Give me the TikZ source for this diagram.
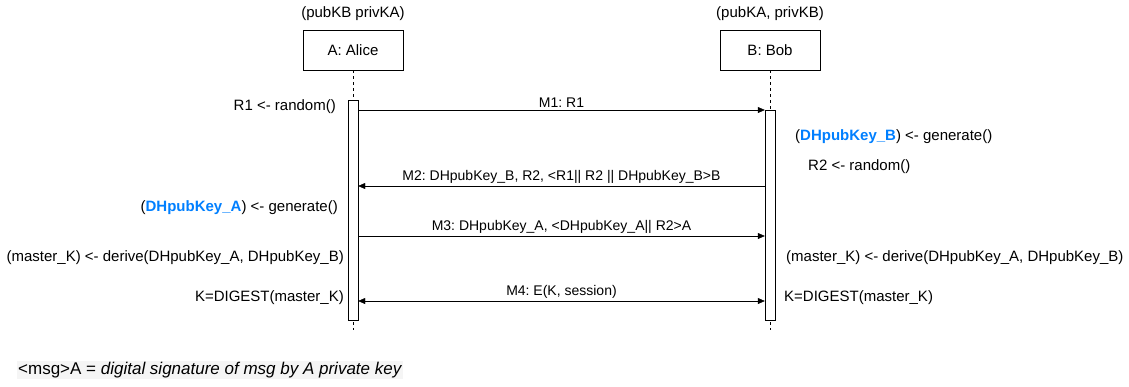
\documentclass[tikz,border=0pt]{standalone}
\usepackage{fontspec}
\setmainfont{Liberation Sans}
\usetikzlibrary{arrows.meta,positioning}
\definecolor{keyblue}{RGB}{0,127,255}
\definecolor{notegray}{RGB}{245,245,245}
\frenchspacing
\begin{document}
\begin{tikzpicture}[x=1pt,y=-1pt,
    actor/.style={draw,minimum width=100pt,minimum height=40pt,font=\fontsize{15}{18}\selectfont},
    act/.style={draw,fill=white,minimum width=10pt,inner sep=0pt},
    msg/.style={-{Triangle[length=7pt,width=6pt]}},
    msglbl/.style={font=\fontsize{14}{16}\selectfont,above,inner sep=2pt},
    note/.style={font=\fontsize{15}{18}\selectfont,inner sep=0pt}]
  \useasboundingbox (0,0) rectangle (1129,386);
  % participants
  \node[actor] (alice) at (353,50) {A: Alice};
  \node[actor] (bob) at (770,50) {B: Bob};
  \node[note,above=9pt of alice] (akeys) {(pubKB privKA)};
  \node[note,above=9pt of bob] (bkeys) {(pubKA, privKB)};
  % lifelines
  \coordinate (aend) at (353,330);
  \coordinate (bend) at (770,330);
  \draw[dashed,dash pattern=on 3pt off 3pt] (alice.south) -- (aend);
  \draw[dashed,dash pattern=on 3pt off 3pt] (bob.south) -- (bend);
  \node[act,minimum height=220pt] (aact) at (353,210) {};
  \node[act,minimum height=210pt] (bact) at (770,215) {};
  % messages
  \draw[msg] (aact.east |- 0,110) -- node[msglbl] (m1) {M1: R1} (bact.west |- 0,110);
  \draw[msg] (bact.west |- 0,186) -- node[msglbl] (m2) {M2: DHpubKey\_B, R2, <R1|| R2 || DHpubKey\_B>B} (aact.east |- 0,186);
  \draw[msg] (aact.east |- 0,236) -- node[msglbl] (m3) {M3: DHpubKey\_A, <DHpubKey\_A|| R2>A} (bact.west |- 0,236);
  \draw[{Triangle[length=7pt,width=6pt]}-{Triangle[length=7pt,width=6pt]}]
    (aact.east |- 0,301) -- node[msglbl] (m4) {M4: E(K, session)} (bact.west |- 0,301);
  % Alice side
  \node[note,anchor=east] (ar1) at (336,107) {R1 <- random()};
  \node[note,anchor=east] (agen) at (338,208) {(\textcolor{keyblue}{\textbf{DHpubKey\_A}}) <- generate()};
  \node[note,anchor=east] (ader) at (344,258) {(master\_K) <- derive(DHpubKey\_A, DHpubKey\_B)};
  \node[note,anchor=east] (adig) at (344,298) {K=DIGEST(master\_K)};
  % Bob side
  \node[note,anchor=west] (bgen) at (795,137) {(\textcolor{keyblue}{\textbf{DHpubKey\_B}}) <- generate()};
  \node[note,anchor=west] (br2) at (808,167) {R2 <- random()};
  \node[note,anchor=west] (bder) at (786,258) {(master\_K) <- derive(DHpubKey\_A, DHpubKey\_B)};
  \node[note,anchor=west] (bdig) at (784,298) {K=DIGEST(master\_K)};
  % legend
  \node[font=\fontsize{17}{20}\selectfont,anchor=west,fill=notegray,inner sep=1pt] (legend) at (17,370)
    {<msg>A = \textit{digital signature of msg by A private key}};
\end{tikzpicture}
\end{document}
